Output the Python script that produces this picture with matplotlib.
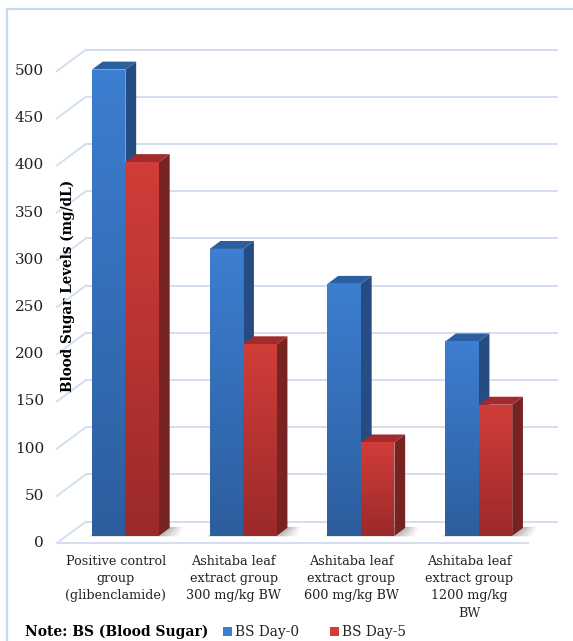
import numpy as np
import matplotlib
matplotlib.use("Agg")
import matplotlib.pyplot as plt
from matplotlib.patches import Polygon
from matplotlib.lines import Line2D

# ---- data ----
categories = ["Positive control\ngroup\n(glibenclamide)",
              "Ashitaba leaf\nextract group\n300 mg/kg BW",
              "Ashitaba leaf\nextract group\n600 mg/kg BW",
              "Ashitaba leaf\nextract group\n1200 mg/kg\nBW"]
bs_day0 = [494, 304, 267, 206]
bs_day5 = [396, 203, 99, 139]
series_names = ["BS Day-0", "BS Day-5"]
yticks = [0, 50, 100, 150, 200, 250, 300, 350, 400, 450, 500]

FONT = "DejaVu Serif"

W, H = 573, 641
fig = plt.figure(figsize=(W/100, H/100), dpi=100)
ax = fig.add_axes([0, 0, 1, 1])
PXU = 117.75   # px per category unit
PVU = 0.944    # px per value unit
X0PX, Y0PX = 57, 543
ax.set_xlim(-0.5 - X0PX/PXU, -0.5 + (W - X0PX)/PXU)
ax.set_ylim((Y0PX - H)/PVU, Y0PX/PVU)
ax.axis("off")

DX = 29/PXU
DY = 21.5/PVU
F0, F1 = 0.33, 0.70
BW = 33.5/PXU

def P(x, v, d):
    return (x + d*DX, v + d*DY)

grid_c = "#d2dff1"
n = len(categories)
# back wall gridlines and left wall diagonals
for v in yticks:
    a = P(-0.5, v, 1); b = P(n - 0.5, v, 1)
    ax.plot([a[0], b[0]], [a[1], b[1]], color=grid_c, lw=1.4, zorder=1)
    a = P(-0.5, v, 0); b = P(-0.5, v, 1)
    ax.plot([a[0], b[0]], [a[1], b[1]], color=grid_c, lw=1.4, zorder=1)
a = P(-0.5, 0, 0); b = P(n - 0.5, 0, 0)
ax.plot([a[0], b[0]], [a[1], b[1]], color=grid_c, lw=1.4, zorder=1)

# tick labels
for v in yticks:
    ax.text(-0.5 - 13/PXU, v, str(v), ha="right", va="center",
            fontsize=11, family=FONT, color="#222222")

def grad_face(x0, x1, v0, v1, ctop, cbot, z):
    poly = Polygon([P(x0, v0, F0), P(x1, v0, F0), P(x1, v1, F0), P(x0, v1, F0)],
                   closed=True, facecolor="none", edgecolor="none", zorder=z)
    ax.add_patch(poly)
    ct = np.array(matplotlib.colors.to_rgb(ctop)); cb = np.array(matplotlib.colors.to_rgb(cbot))
    t = np.linspace(0, 1, 64)[:, None]
    img = (ct[None, :] * (1 - t) + cb[None, :] * t)[:, None, :]
    (a0, b0) = P(x0, v0, F0); (a1, b1) = P(x1, v1, F0)
    im = ax.imshow(img, extent=[a0, a1, b0, b1], aspect="auto", zorder=z,
                   interpolation="bilinear", origin="upper")
    im.set_clip_path(poly)

styles = [
    dict(ftop="#3c7ed1", fbot="#2d5e9e", side="#254d84", top="#2c5f9f"),
    dict(ftop="#d13d39", fbot="#9b2a2a", side="#782222", top="#a22c2c"),
]

z = 3
for i in range(n):
    # soft shadow on the floor
    xr = i + BW
    for k, al in enumerate([0.05, 0.06, 0.07, 0.08]):
        ext = 0.17 - k*0.04
        sh = Polygon([P(i - BW - 0.03 + k*0.01, 0, F0 - 0.02), P(xr + ext, 0, F0 - 0.02),
                      P(xr + ext*0.6, 0, F1 + 0.05), P(i - BW + 0.02, 0, F1)],
                     closed=True, facecolor="black", alpha=al, edgecolor="none", zorder=2)
        ax.add_patch(sh)
    for s, vals in enumerate([bs_day0, bs_day5]):
        val = vals[i]
        x0 = i - BW + s*BW; x1 = x0 + BW
        st = styles[s]
        side = Polygon([P(x1, 0, F0), P(x1, 0, F1), P(x1, val, F1), P(x1, val, F0)],
                       closed=True, facecolor=st["side"], edgecolor="none", zorder=z)
        ax.add_patch(side)
        top = Polygon([P(x0, val, F0), P(x1, val, F0), P(x1, val, F1), P(x0, val, F1)],
                      closed=True, facecolor=st["top"], edgecolor="none", zorder=z)
        ax.add_patch(top)
        grad_face(x0, x1, 0, val, st["ftop"], st["fbot"], z)
        z += 1

ax.set_xlim(-0.5 - X0PX/PXU, -0.5 + (W - X0PX)/PXU)
ax.set_ylim((Y0PX - H)/PVU, Y0PX/PVU)

# category labels
for i, c in enumerate(categories):
    ax.text(i, (Y0PX - 555)/PVU, c, ha="center", va="top", fontsize=9.2,
            family=FONT, color="#222222", linespacing=1.42)

# y label
fig.text(68/W, 1 - 286/H, "Blood Sugar Levels (mg/dL)", rotation=90, ha="center",
         va="center", fontsize=9.8, fontweight="bold", family=FONT, color="black")

# legend / note
ly = 1 - 632/H
fig.text(25/W, ly, "Note: BS (Blood Sugar)", ha="left", va="center", fontsize=10,
         fontweight="bold", family=FONT, color="black")
cols = ["#3c7ed1", "#d13d39"]
for xs, name, col in [(223, series_names[0], cols[0]), (330, series_names[1], cols[1])]:
    fig.patches.append(matplotlib.patches.Rectangle((xs/W, 1 - 636/H), 9/W, 9/H,
                       transform=fig.transFigure, facecolor=col, edgecolor="none"))
    fig.text((xs + 12)/W, ly, name, ha="left", va="center", fontsize=9.9,
             family=FONT, color="#222222")

# chart area border
bc = "#c9d9ee"
fig.add_artist(Line2D([7/W, 7/W], [0, 1 - 9/H], color=bc, lw=1.6, transform=fig.transFigure))
fig.add_artist(Line2D([7/W, 1], [1 - 9/H, 1 - 9/H], color=bc, lw=1.6, transform=fig.transFigure))

fig.savefig("out.png", dpi=100)
